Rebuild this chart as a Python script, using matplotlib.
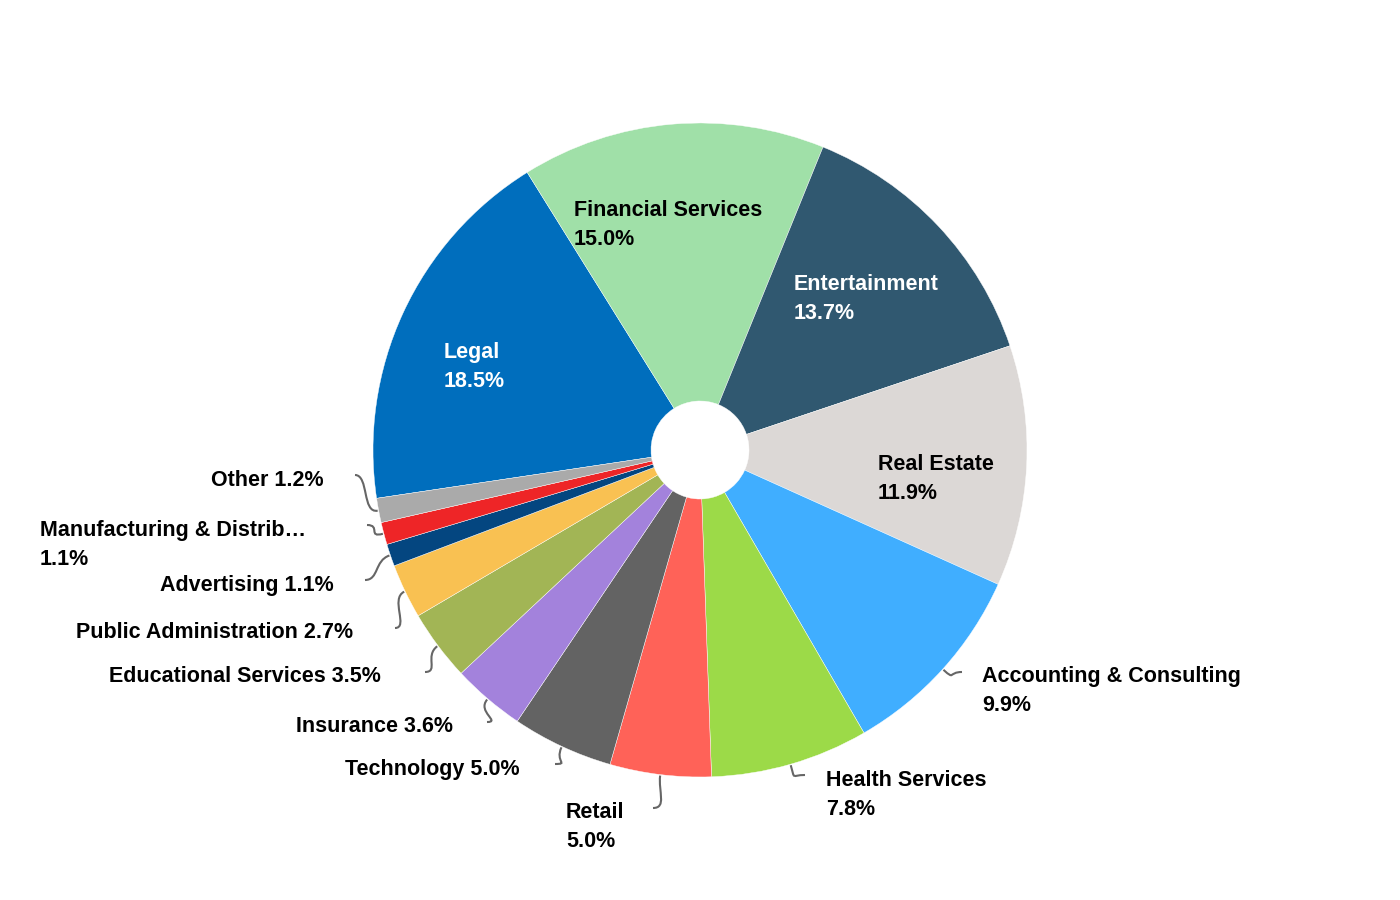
import numpy as np
import matplotlib.pyplot as plt
from matplotlib.path import Path
from matplotlib.patches import PathPatch

# Share by industry (%)
industries = ['Legal', 'Financial Services', 'Entertainment', 'Real Estate',
              'Accounting & Consulting', 'Health Services', 'Retail', 'Technology',
              'Insurance', 'Educational Services', 'Public Administration',
              'Advertising', 'Manufacturing & Distrib\u2026', 'Other']
shares = [18.5, 15.0, 13.7, 11.9, 9.9, 7.8, 5.0, 5.0, 3.6, 3.5, 2.7, 1.1, 1.1, 1.2]
colors = ['#006EBD', '#A0E0A8', '#305870', '#DCD8D6', '#40AEFF', '#9CDA48',
          '#FF6258', '#636363', '#A382DC', '#A2B555', '#F9C152', '#044680',
          '#EE2527', '#AAAAAA']

# label layout, in pixels of the 1400x900 picture: (x, y, ha, two lines?, text colour)
label_pos = [(444, 367, 'left', True, 'white'),
             (574, 225, 'left', True, 'black'),
             (794, 299, 'left', True, 'white'),
             (878, 479, 'left', True, 'black'),
             (982, 691, 'left', True, 'black'),
             (826, 795, 'left', True, 'black'),
             (566, 827, 'left', True, 'black'),
             (520, 769, 'right', False, 'black'),
             (453, 727, 'right', False, 'black'),
             (381, 677, 'right', False, 'black'),
             (353, 632, 'right', False, 'black'),
             (334, 585, 'right', False, 'black'),
             (40, 545, 'left', True, 'black'),
             (324, 481, 'right', False, 'black')]
# where the leader line leaves the label (None = label inside the slice)
leader_start = [None, None, None, None, (962, 672), (805, 775), (653, 808),
                (555, 764), (487, 722), (425, 672), (395, 628), (365, 580),
                (367, 525), (355, 475)]

plt.rcParams['font.family'] = ['Liberation Sans', 'DejaVu Sans']

fig = plt.figure(figsize=(14, 9), dpi=100)
ax = fig.add_axes([0, 0, 1, 1])

cx, cy, R, hole = 700, 450, 327, 49
wedges, _ = ax.pie(shares, colors=colors, startangle=-171.5, counterclock=False,
                   center=(cx, cy), radius=R, frame=True,
                   wedgeprops=dict(width=R - hole, edgecolor='white', linewidth=0.3))
ax.set_xlim(0, 1400)
ax.set_ylim(0, 900)
ax.set_aspect('equal')
ax.axis('off')

for w, name, val, lp, ls in zip(wedges, industries, shares, label_pos, leader_start):
    x, y, ha, two, col = lp
    txt = f'{name}\n{val:.1f}%' if two else f'{name} {val:.1f}%'
    ax.text(x, 900 - y, txt, ha=ha, va='center', fontsize=15.5, fontweight='bold',
            color=col, linespacing=1.55)
    if ls is None:
        continue
    mid = np.deg2rad((w.theta1 + w.theta2) / 2)
    ux, uy = np.cos(mid), np.sin(mid)
    ex, ey = cx + (R + 1) * ux, cy + (R + 1) * uy
    sx, sy = ls[0], 900 - ls[1]
    d = np.sign(cx - sx)
    verts = [(sx, sy), (sx + d * 14, sy), (ex + ux * 16, ey + uy * 16), (ex, ey)]
    path = Path(verts, [Path.MOVETO, Path.CURVE4, Path.CURVE4, Path.CURVE4])
    ax.add_patch(PathPatch(path, fc='none', ec='#666666', lw=1.5))

fig.savefig('out.png', dpi=100, facecolor='white')
